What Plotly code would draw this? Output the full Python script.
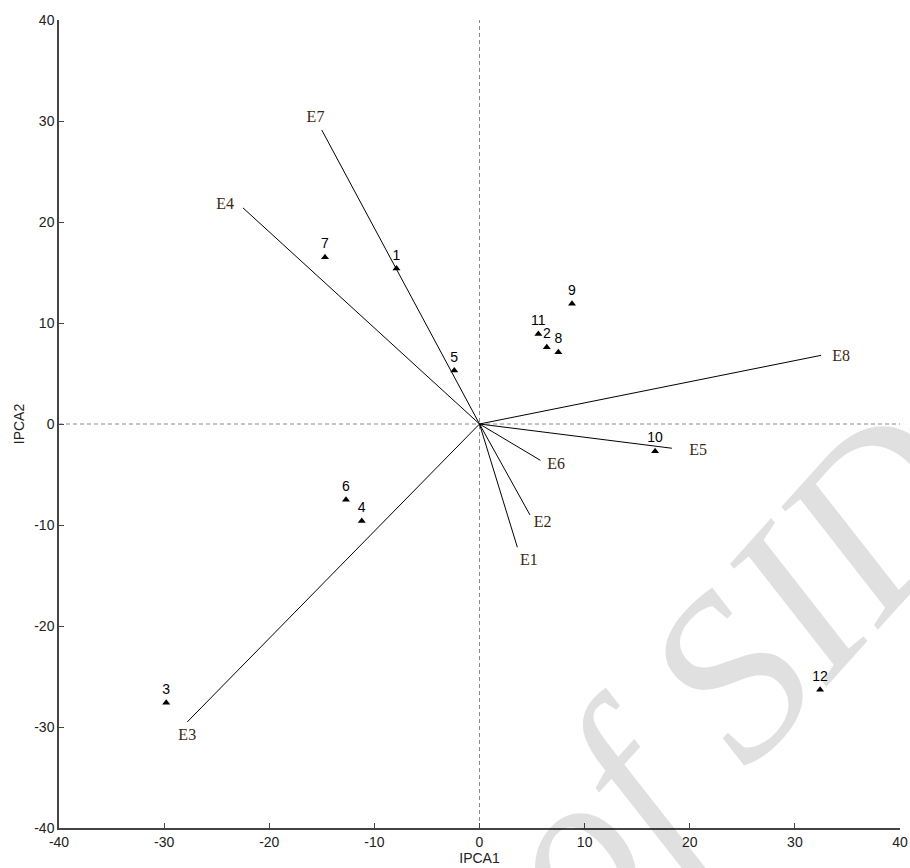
import plotly.graph_objects as go

# Genotype scores
gen_labels = ["1", "2", "3", "4", "5", "6", "7", "8", "9", "10", "11", "12"]
gen_ipca1 = [-7.9, 6.4, -29.8, -11.2, -2.4, -12.7, -14.7, 7.5, 8.8, 16.7, 5.6, 32.4]
gen_ipca2 = [15.4, 7.6, -27.6, -9.6, 5.3, -7.5, 16.5, 7.1, 11.9, -2.7, 8.9, -26.3]

# Environment vectors
env_labels = ["E1", "E2", "E3", "E4", "E5", "E6", "E7", "E8"]
env_ipca1 = [3.6, 4.8, -27.8, -22.5, 18.3, 5.8, -15.0, 32.5]
env_ipca2 = [-12.2, -9.0, -29.5, 21.4, -2.4, -3.6, 29.1, 6.8]
# label offsets (data units) relative to vector tips
env_lab_dx = [1.1, 1.2, 0.0, -1.7, 2.5, 1.5, -0.6, 1.9]
env_lab_dy = [-1.4, -0.8, -1.4, 0.3, -0.3, -0.5, 1.2, -0.2]

x_ticks = [-40, -30, -20, -10, 0, 10, 20, 30, 40]
y_ticks = [-40, -30, -20, -10, 0, 10, 20, 30, 40]
x_tick_text = ["-40", "-30", "-20", "-10", "0", "10", "20", "30", "40"]
y_tick_text = ["-40", "-30", "-20", "-10", "0", "10", "20", "30", "40"]

fig = go.Figure()

# watermark (translucent so marks stay visible)
fig.add_annotation(text="<i>of SID</i>", xref="x", yref="y", x=24.0, y=-24.8,
                   showarrow=False, textangle=-48,
                   font=dict(family="Liberation Serif", size=235,
                             color="rgba(0,0,0,0.12)"))

# reference dashed lines
fig.add_trace(go.Scatter(x=[0, 0], y=[-40, 40], mode="lines",
                         line=dict(color="#8a8a8a", width=1, dash="4px,3px"),
                         hoverinfo="skip", showlegend=False))
fig.add_trace(go.Scatter(x=[-40, 40], y=[0, 0], mode="lines",
                         line=dict(color="#8a8a8a", width=1, dash="4px,3px"),
                         hoverinfo="skip", showlegend=False))

# environment vectors
for ex, ey in zip(env_ipca1, env_ipca2):
    fig.add_trace(go.Scatter(x=[0, ex], y=[0, ey], mode="lines",
                             line=dict(color="black", width=1),
                             hoverinfo="skip", showlegend=False))

# environment labels
fig.add_trace(go.Scatter(
    x=[e + d for e, d in zip(env_ipca1, env_lab_dx)],
    y=[e + d for e, d in zip(env_ipca2, env_lab_dy)],
    mode="text", text=env_labels,
    textfont=dict(family="Liberation Serif", size=16, color="#3a2810"),
    showlegend=False))

# genotype points
fig.add_trace(go.Scatter(
    x=gen_ipca1, y=gen_ipca2, mode="markers+text", text=gen_labels,
    textposition="top center",
    marker=dict(symbol="triangle-up", size=7, color="black"),
    textfont=dict(family="Liberation Sans", size=14, color="black"),
    showlegend=False))

fig.update_layout(
    width=910, height=868,
    margin=dict(l=59, r=10, t=20, b=40),
    paper_bgcolor="white", plot_bgcolor="white",
    font=dict(family="Liberation Sans", size=14, color="#222222"),
    xaxis=dict(range=[-40, 40], tickvals=x_ticks, ticktext=x_tick_text,
               ticks="inside", ticklen=5, automargin=False,
               tickcolor="#444444", showline=True, linecolor="#444444", linewidth=1.5,
               showgrid=False, zeroline=False,
               title=dict(text="IPCA1", standoff=2, font=dict(size=14))),
    yaxis=dict(range=[-40, 40], tickvals=y_ticks, ticktext=y_tick_text,
               ticks="inside", ticklen=5, automargin=False,
               tickcolor="#444444", showline=True, linecolor="#444444", linewidth=1.5,
               showgrid=False, zeroline=False,
               title=dict(text="IPCA2", standoff=6, font=dict(size=14))),
)

fig.write_html(
    "out.html",
    config={"displayModeBar": False},
    post_script="document.body.style.margin='0';document.body.style.overflow='hidden';",
)
